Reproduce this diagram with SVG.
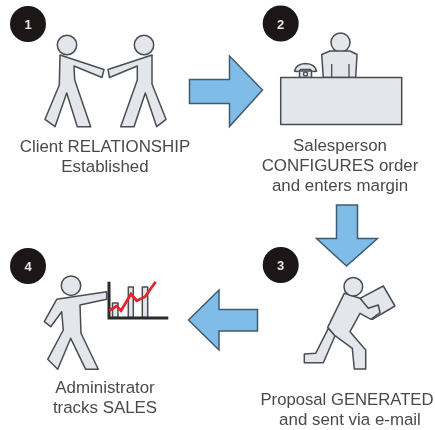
<svg xmlns="http://www.w3.org/2000/svg" width="435" height="430" viewBox="0 0 435 430">
<style>
.badge{fill:#1a1818}
.num{font:bold 13px "Liberation Sans",Arial,sans-serif;fill:#e8e8e8;text-anchor:middle}
.fig{fill:#e3e6ea;stroke:#4a4d52;stroke-width:1.5;stroke-linejoin:round}
.thin{fill:none;stroke:#4a4d52;stroke-width:1.3}
.arrow{fill:#7fbce8;stroke:#3f5a70;stroke-width:1.5;stroke-linejoin:miter}
.lbl{font:16.9px "Liberation Sans",Arial,sans-serif;fill:#4a4a4a;text-anchor:middle}
</style>
<defs><filter id="soft" x="-5%" y="-5%" width="110%" height="110%"><feGaussianBlur stdDeviation="0.35"/></filter></defs>
<rect width="435" height="430" fill="#fff"/>
<g filter="url(#soft)">
<g id="connectors">
<polygon class="arrow" points="189.500,79.500 229.500,79.500 229.500,56 262.500,90 229.500,126.500 229.500,103.500 189.500,103.500"/>
<polygon class="arrow" points="336.500,205 357.500,205 357.500,238.500 377.500,238.500 346.500,266 316.500,238.500 336.500,238.500"/>
<polygon class="arrow" points="257.500,309.500 219,309.500 219,290 188.500,320 219,350 219,331 257.500,331"/>
</g>
<g id="node1">
<circle class="badge" cx="28" cy="24" r="18"/>
<text class="num" x="28" y="29">1</text>
<circle class="fig" cx="67" cy="45" r="9.700"/>
<polygon class="fig" points="60,55 104,69.500 102,77.500 74,66 74.700,80 90.700,126.700 77.300,126.700 66.700,93 55,126.700 45,119.300 59.300,85"/>
<circle class="fig" cx="144" cy="45" r="9.700"/>
<polygon class="fig" points="152,55 108,69.500 109.500,77.500 137.300,66 137.300,80 120.700,126.700 134,126.700 145.300,93 156.700,126.700 166,119.300 152,84"/>
<text class="lbl" x="105" y="152">Client RELATIONSHIP</text>
<text class="lbl" x="105" y="172">Established</text>
</g>
<g id="node2">
<circle class="badge" cx="280.700" cy="23.500" r="18"/>
<text class="num" x="280.700" y="28.500">2</text>
<circle class="fig" cx="340.500" cy="42.500" r="9.500"/>
<path class="fig" d="M323.300,77.500 L321.700,54.500 L330,51 H350 L357,54.500 L355.700,77.500 Z"/>
<path class="thin" d="M331.700,64 V77.500 M349,64 V77.500"/>
<path class="fig" d="M299.500,77.500 V71 H311.500 V77.500 Z"/>
<path class="fig" d="M294.500,71 Q296,64 305.500,63.500 Q315,64 316.700,71 Q312,72.500 310.500,69.500 H300.500 Q299,72.500 294.500,71 Z"/>
<circle class="thin" cx="305.500" cy="74" r="2"/>
<rect class="fig" x="280.700" y="77.500" width="121" height="47"/>
<text class="lbl" x="340" y="151">Salesperson</text>
<text class="lbl" x="340" y="171">CONFIGURES order</text>
<text class="lbl" x="340" y="191">and enters margin</text>
</g>
<g id="node3">
<circle class="badge" cx="280.700" cy="265" r="18"/>
<text class="num" x="280.700" y="270">3</text>
<polygon class="fig" points="360,298.300 383.300,286 395,306 372.300,319.300"/>
<polygon class="fig" points="328.300,328.300 315.700,353.300 304.300,354 304.300,362.700 323.300,362.700 335,335.700"/>
<polygon class="fig" points="344.300,293.300 327.700,327.300 335,335.700 352.300,348.300 354.300,369 365.700,369 365.700,350 350,331.700 360,313.300 371,319.300 380,312.700 378.300,305 368.300,308.300 360,298.300"/>
<circle class="fig" cx="353.300" cy="286.700" r="9.300"/>
<text class="lbl" x="347" y="405" style="font-size:16.700px">Proposal GENERATED</text>
<text class="lbl" x="350" y="425">and sent via e-mail</text>
</g>
<g id="node4">
<circle class="badge" cx="28" cy="266" r="18"/>
<text class="num" x="28" y="271">4</text>
<circle class="fig" cx="71" cy="285.700" r="9.700"/>
<polygon class="fig" points="56.700,299.300 106.700,291.700 106.700,299.300 80,305 81,333.300 98.300,369.300 85.700,369.300 70.700,338.300 57.700,369.300 47.700,359.300 63.300,330 61.700,311.700 50.700,326.700 44.300,321.700"/>
<rect class="fig" x="112.500" y="303" width="5.500" height="14.500"/>
<rect class="fig" x="128.300" y="287" width="5" height="30.500"/>
<rect class="fig" x="142.300" y="287" width="5.400" height="30.500"/>
<path d="M109,281.700 V318 H168.300" fill="none" stroke="#2a2a2a" stroke-width="3"/>
<path d="M109,310.700 L116.700,306 L121,310.700 L131,294 L136.700,300.700 L145,296.700 L155.700,281.700" fill="none" stroke="#e0262c" stroke-width="2.800"/>
<text class="lbl" x="105" y="393">Administrator</text>
<text class="lbl" x="105" y="413">tracks SALES</text>
</g>
</g>
</svg>
